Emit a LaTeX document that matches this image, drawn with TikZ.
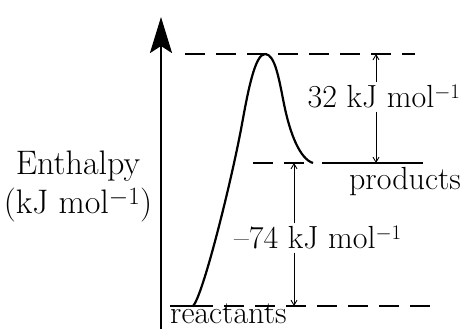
\documentclass[tikz,border=0pt]{standalone}
\usetikzlibrary{arrows.meta}
\newcommand{\permol}{kJ mol$^{-1}$}
\begin{document}
\begin{tikzpicture}[
        x=1pt, y=1pt,
        every node/.style={font=\fontsize{32}{38}\selectfont, inner sep=0pt},
        level/.style={line width=2.5pt},
        dashlevel/.style={line width=2.5pt, dash pattern=on 20pt off 11pt},
        gap/.style={line width=0.9pt, -{Straight Barb[length=5pt, width=6pt]}},
        curve/.style={line width=2.2pt}
    ]
    \useasboundingbox (0,0) rectangle (466,329);
    % axis
    \coordinate (base) at (161,0);
    \coordinate (tip)  at (161,312);
    \draw[line width=2.6pt, -{Stealth[length=36pt, width=22pt, inset=7pt]}] (base) -- (tip);
    \node[align=center, font=\fontsize{34}{39}\selectfont] (ylab) at (78,143) {Enthalpy\\(\permol)};
    % energy levels
    \coordinate (ts1)  at (185,275);
    \coordinate (ts2)  at (415,275);
    \coordinate (pr1)  at (253,166);
    \coordinate (pr2)  at (310,166);
    \coordinate (pr3)  at (322,166);
    \coordinate (pr4)  at (423,166);
    \coordinate (re1)  at (170,23);
    \coordinate (re2)  at (193,23);
    \coordinate (re3)  at (435,23);
    \draw[dashlevel] (ts1) -- (ts2);
    \draw[dashlevel] (pr1) -- (pr2);
    \draw[level] (pr3) -- (pr4);
    \draw[level] (re1) -- (re2);
    \draw[dashlevel] (re2) -- (re3);
    \node[anchor=base] (prod) at (405,139) {products};
    \node[anchor=base west] (reac) at (170,5) {reactants};
    % reaction path
    \coordinate (peak) at (265,275);
    \coordinate (pend) at (313,166);
    \draw[curve] (re2) .. controls (203,33) and (232,150) .. (242,205)
                       .. controls (248,238) and (255,275) .. (peak)
                       .. controls (275,275) and (279,250) .. (284,225)
                       .. controls (290,195) and (300,170) .. (pend);
    % energy gaps
    \coordinate (a32t) at (376,275);
    \coordinate (a32b) at (376,166);
    \node (lbl32) at (384,232) {32 \permol};
    \draw[gap] ([yshift=3pt]a32t |- lbl32.north) -- (a32t);
    \draw[gap] ([yshift=-3pt]a32b |- lbl32.south) -- (a32b);
    \coordinate (a74t) at (294,166);
    \coordinate (a74b) at (294,23);
    \node (lbl74) at (318,91) {--74 \permol};
    \draw[gap] ([yshift=3pt]a74t |- lbl74.north) -- (a74t);
    \draw[gap] ([yshift=-3pt]a74b |- lbl74.south) -- (a74b);
\end{tikzpicture}
\end{document}
